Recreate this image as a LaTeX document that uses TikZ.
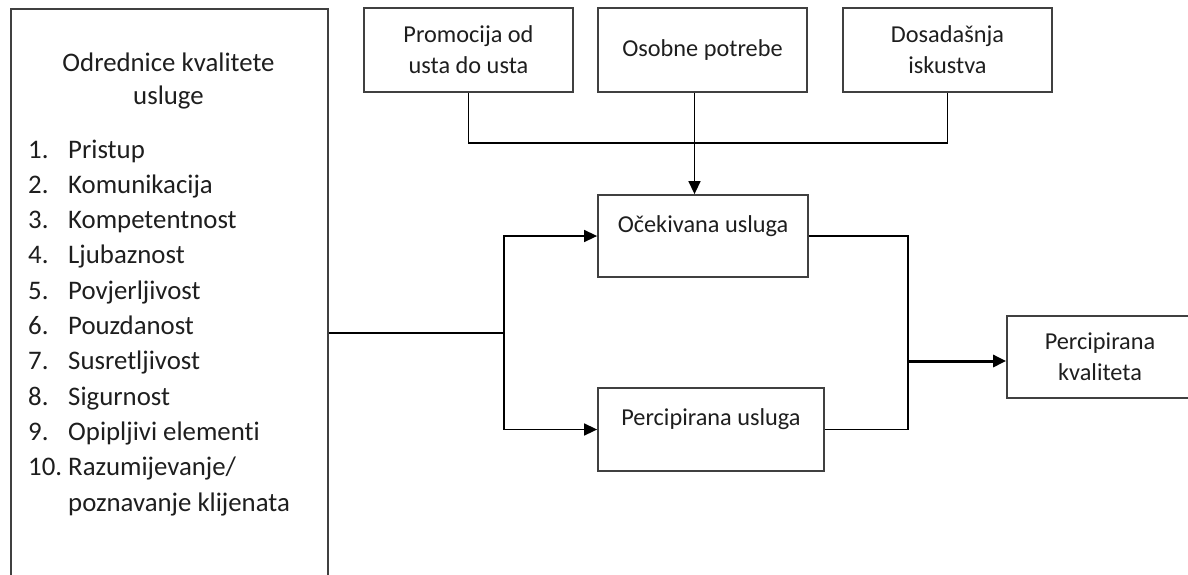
\documentclass[tikz,border=0pt]{standalone}
\usepackage{fontspec}
\setmainfont{Carlito}[Ligatures=NoCommon]
\usetikzlibrary{arrows.meta}

\definecolor{rahmen}{HTML}{404040}
\definecolor{schrift}{HTML}{1E1E1E}

\tikzset{
	kasten/.style={draw=rahmen, line width=1.8pt, inner sep=0pt, align=center, text=schrift},
	linie/.style={line width=1.5pt, black},
	pfeil/.style={linie, -{Triangle[length=13pt,width=12pt]}},
	gross/.style={font=\fontsize{26.8}{32.7}\selectfont, text=schrift, inner sep=0pt},
	punkt/.style={gross, anchor=base west},
}

\begin{document}
\begin{tikzpicture}[x=1pt,y=-1pt,font=\fontsize{24.3}{31}\selectfont]
	\useasboundingbox (0,0) rectangle (1188,574);
	\clip (0,0) rectangle (1188,574);

	% Left box: determinants
	\node[kasten, minimum width=317pt, minimum height=620pt, anchor=north west] (odrednice) at (10,8) {};
	\node[gross, anchor=north, align=center] (titel) at (168.5,52.5) {Odrednice kvalitete\\usluge};
	\foreach \txt [count=\i] in {Pristup, Komunikacija, Kompetentnost, Ljubaznost, Povjerljivost, Pouzdanost, Susretljivost, Sigurnost, Opipljivi elementi, Razumijevanje/}{
		\node[punkt] (nr\i) at (28,{122.7+35.3*\i}) {\i.};
		\node[punkt] (stavka\i) at (68,{122.7+35.3*\i}) {\txt};
	}
	\node[punkt] (stavka11) at (68,511) {poznavanje klijenata};

	% Top row
	\node[kasten, minimum width=209pt, minimum height=84pt] (promocija) at (468.5,50) {Promocija od\\usta do usta};
	\node[kasten, minimum width=209pt, minimum height=84pt] (potrebe) at (702.5,50) {Osobne potrebe};
	\node[kasten, minimum width=209pt, minimum height=84pt] (iskustva) at (947.5,50) {Dosadašnja\\iskustva};

	% Expected and perceived service
	\node[kasten, minimum width=210pt, minimum height=82pt, text height=20pt, text depth=28pt] (ocekivana) at (703,236) {Očekivana usluga};
	\node[kasten, minimum width=226pt, minimum height=83pt, text height=20pt, text depth=28pt] (percusluga) at (711,429.5) {Percipirana usluga};
	\node[kasten, minimum width=186pt, minimum height=82pt] (perckval) at (1100,357) {Percipirana\\kvaliteta};

	% Connectors
	\draw[linie] (promocija.south) -- ++(0,50) -| (iskustva.south);
	\draw[pfeil] ([xshift=-8pt]potrebe.south) -- ([xshift=-8pt]potrebe.south |- ocekivana.north);

	\coordinate (verzweig) at (504,333);
	\draw[linie] (odrednice.east |- verzweig) -- (verzweig);
	\draw[pfeil] (verzweig) |- (ocekivana.west);
	\draw[pfeil] (verzweig) |- (percusluga.west);

	\coordinate (sammel) at (908,361);
	\draw[linie] (ocekivana.east) -| (sammel);
	\draw[linie] (percusluga.east) -| (sammel);
	\draw[pfeil, line width=3pt] (sammel) -- (perckval.west |- sammel);

\end{tikzpicture}
\end{document}
